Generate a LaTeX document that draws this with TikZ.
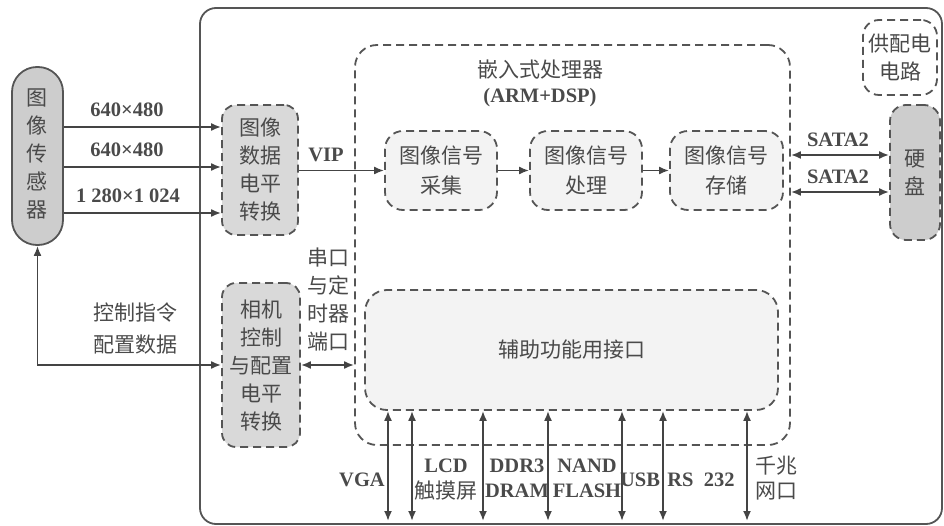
\documentclass[tikz,border=0pt]{standalone}
\usepackage{fontspec}
\setmainfont{Liberation Serif}
\newfontfamily\cjk{Noto Sans CJK SC}
\usetikzlibrary{arrows.meta}
\definecolor{tc}{HTML}{4A4A4A}
\definecolor{lc}{HTML}{444444}
\definecolor{bc}{HTML}{555555}
\definecolor{gA}{HTML}{CDCDCD}
\definecolor{gB}{HTML}{D9D9D9}
\definecolor{gC}{HTML}{F3F3F3}
\tikzset{
  zh/.style={text=tc, font=\cjk\fontsize{21}{28}\selectfont, align=center, inner sep=0pt},
  en/.style={text=tc, font=\bfseries\fontsize{20.5}{26}\selectfont, align=center, inner sep=0pt},
  dbox/.style={draw=bc, line width=1.8pt, dash pattern=on 8pt off 5pt, rounded corners=14pt, inner sep=0pt},
  sbox/.style={draw=bc, line width=1.8pt, rounded corners=25pt, inner sep=0pt},
  arr/.style={draw=lc, line width=1.8pt, -{Latex[length=10pt,width=8pt]}},
  darr/.style={draw=lc, line width=1.8pt, {Latex[length=10pt,width=8pt]}-{Latex[length=10pt,width=8pt]}},
}
\begin{document}
\begin{tikzpicture}[x=1pt,y=-1pt]
\useasboundingbox (0,0) rectangle (944,526);
% outer board
\draw[draw=bc, line width=1.8pt, rounded corners=16pt] (200,8) rectangle (942,524);
% processor
\node[dbox, rounded corners=22pt, minimum width=435pt, minimum height=400pt] (proc) at (572.5,245) {};
\node[zh] (proct) at (540,70) {嵌入式处理器};
\node[en] (procl) at (540,98) {(ARM+DSP)};
% auxiliary interface
\node[dbox, fill=gC, rounded corners=22pt, minimum width=413pt, minimum height=120pt] (aux) at (571.5,350) {};
\node[zh] (auxt) at (571.5,350) {辅助功能用接口};
% sensor
\node[sbox, fill=gA, minimum width=51pt, minimum height=178pt] (sensor) at (37.5,156) {};
\node[zh] (sensort) at (37.5,154) {图\\像\\传\\感\\器};
% conversion boxes
\node[dbox, fill=gB, minimum width=76pt, minimum height=130pt] (conv) at (260,170) {};
\node[zh] (convt) at (260,170) {图像\\数据\\电平\\转换};
\node[dbox, fill=gB, minimum width=78pt, minimum height=164pt] (cam) at (261,365) {};
\node[zh] (camt) at (261,366) {相机\\控制\\与配置\\电平\\转换};
% processing chain
\node[dbox, fill=gC, rounded corners=18pt, minimum width=112pt, minimum height=79pt] (acq) at (441,170.5) {};
\node[zh, font=\cjk\fontsize{21}{30}\selectfont] (acqt) at (441,170.5) {图像信号\\采集};
\node[dbox, fill=gC, rounded corners=18pt, minimum width=112pt, minimum height=79pt] (prc) at (586,170.5) {};
\node[zh, font=\cjk\fontsize{21}{30}\selectfont] (prct) at (586,170.5) {图像信号\\处理};
\node[dbox, fill=gC, rounded corners=18pt, minimum width=113pt, minimum height=79pt] (sto) at (726.5,170.5) {};
\node[zh, font=\cjk\fontsize{21}{30}\selectfont] (stot) at (726.5,170.5) {图像信号\\存储};
% power and disk
\node[dbox, fill=white, rounded corners=16pt, minimum width=74pt, minimum height=75pt] (pwr) at (900,57.5) {};
\node[zh] (pwrt) at (900,57.5) {供配电\\电路};
\node[dbox, fill=gA, rounded corners=16pt, minimum width=50pt, minimum height=135pt] (hdd) at (915,172.5) {};
\node[zh] (hddt) at (915,172.5) {硬\\盘};
% sensor -> conversion
\draw[arr] (sensor.east |- 0,127) -- (conv.west |- 0,127);
\draw[arr] (sensor.east |- 0,167) -- (conv.west |- 0,167);
\draw[arr] (sensor.east |- 0,213) -- (conv.west |- 0,213);
\node[en] (r1) at (127,110) {640×480};
\node[en] (r2) at (127,150) {640×480};
\node[en] (r3) at (128,196) {1 280×1 024};
% VIP
\draw[arr] (conv.east |- acq.west) -- (acq.west);
\node[en] (vip) at (326,155) {VIP};
\draw[arr] (acq.east) -- (prc.west);
\draw[arr] (prc.east) -- (sto.west);
% SATA
\draw[darr] (proc.east |- 0,155) -- (hdd.west |- 0,155);
\draw[darr] (proc.east |- 0,192) -- (hdd.west |- 0,192);
\node[en] (s1) at (838,140) {SATA2};
\node[en] (s2) at (838,177) {SATA2};
% control
\draw[darr] (sensor.south) |- (cam.west);
\node[zh] (c1) at (135,313) {控制指令};
\node[zh] (c2) at (135,345) {配置数据};
% serial
\draw[darr] (cam.east) -- (proc.west |- cam.east);
\node[zh] (ser) at (328,300) {串口\\与定\\时器\\端口};
% bottom interfaces
\foreach \i/\x in {1/388,2/412,3/483,4/548,5/622,6/663,7/747}{
  \coordinate (b\i) at (\x,521);
  \draw[darr] (aux.south -| b\i) -- (b\i);
}
\node[en] (vga) at (362,480) {VGA};
\node[en] (lcd) at (446,466) {LCD};
\node[zh] (lcd2) at (446,491) {触摸屏};
\node[en] (ddr) at (517,466) {DDR3};
\node[en] (ddr2) at (517,491) {DRAM};
\node[en] (nand) at (587,466) {NAND};
\node[en] (nand2) at (587,491) {FLASH};
\node[en] (usb) at (640,480) {USB};
\node[en] (rs) at (701,480) {RS\ \ 232};
\node[zh] (gb) at (776,466) {千兆};
\node[zh] (gb2) at (776,491) {网口};
\end{tikzpicture}
\end{document}
